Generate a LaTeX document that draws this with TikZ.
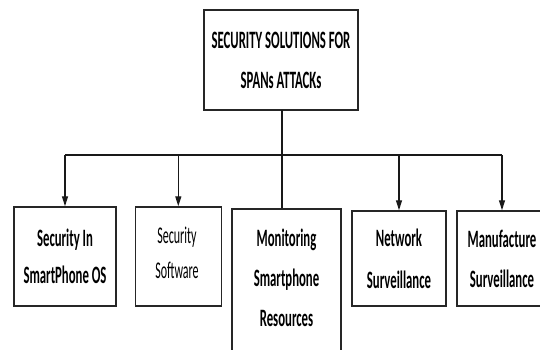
\documentclass[tikz,border=0pt]{standalone}
\usepackage{fontspec}
\setmainfont{Carlito}
\usepackage{graphicx}
\usetikzlibrary{arrows.meta}
\newcommand\sx[1]{\scalebox{0.51}[1]{#1}}
\newcommand\sxr[1]{\scalebox{0.5}[1]{#1}}
\tikzset{
  box/.style={draw=black!85, line width=1.5pt, rectangle, inner sep=0pt, align=center},
  bold/.style={font=\fontsize{25}{#1}\selectfont\bfseries},
  conn/.style={draw=black!90, line width=1.3pt},
  arr/.style={conn, -{Triangle[length=10pt,width=6pt]}}
}
\begin{document}
\begin{tikzpicture}[x=1pt,y=-1pt]
\useasboundingbox (0,0) rectangle (540,350);
\clip (0,0) rectangle (540,350);
\fill[white] (0,0) rectangle (540,350);
\node[box, bold=40, minimum width=154pt, minimum height=100pt] (top) at (281,60)
  {\sx{SECURITY SOLUTIONS FOR}\\\sx{SPANs ATTACKs}};
\node[box, bold=37, minimum width=102pt, minimum height=99pt] (b1) at (65,256.5)
  {\sx{Security In}\\\sx{SmartPhone OS}};
\node[box, minimum width=86pt, minimum height=99pt] (b2) at (178.3,256.5) {};
\node[font=\fontsize{24}{35}\selectfont, align=center, inner sep=0pt] (b2t) at (177,252.5)
  {\sxr{Security}\\\sxr{Software}};
\node[box, minimum width=109pt, minimum height=160pt, anchor=north] (b3) at (286.5,208) {};
\node[bold=40, align=center, inner sep=0pt] (b3t) at (286.5,278)
  {\sx{Monitoring}\\\sx{Smartphone}\\\sx{Resources}};
\node[box, bold=42, minimum width=94pt, minimum height=95pt] (b4) at (399,258.5)
  {\sx{Network}\\\sx{Surveillance}};
\node[box, bold=40, minimum width=90pt, minimum height=95pt] (b5) at (502,258.5)
  {\sx{Manufacture}\\\sx{Surveillance}};
\coordinate (j) at (282,155);
\coordinate (jl) at (b1.north |- j);
\coordinate (jr) at (b5.north |- j);
\draw[conn] (282,110) -- (282,208);
\draw[conn] (jl) -- (jr);
\draw[arr] (jl) -- (b1.north);
\draw[arr] (b2.north |- j) -- (b2.north);
\draw[arr] (b4.north |- j) -- (b4.north);
\draw[arr] (jr) -- (b5.north);
\end{tikzpicture}
\end{document}
